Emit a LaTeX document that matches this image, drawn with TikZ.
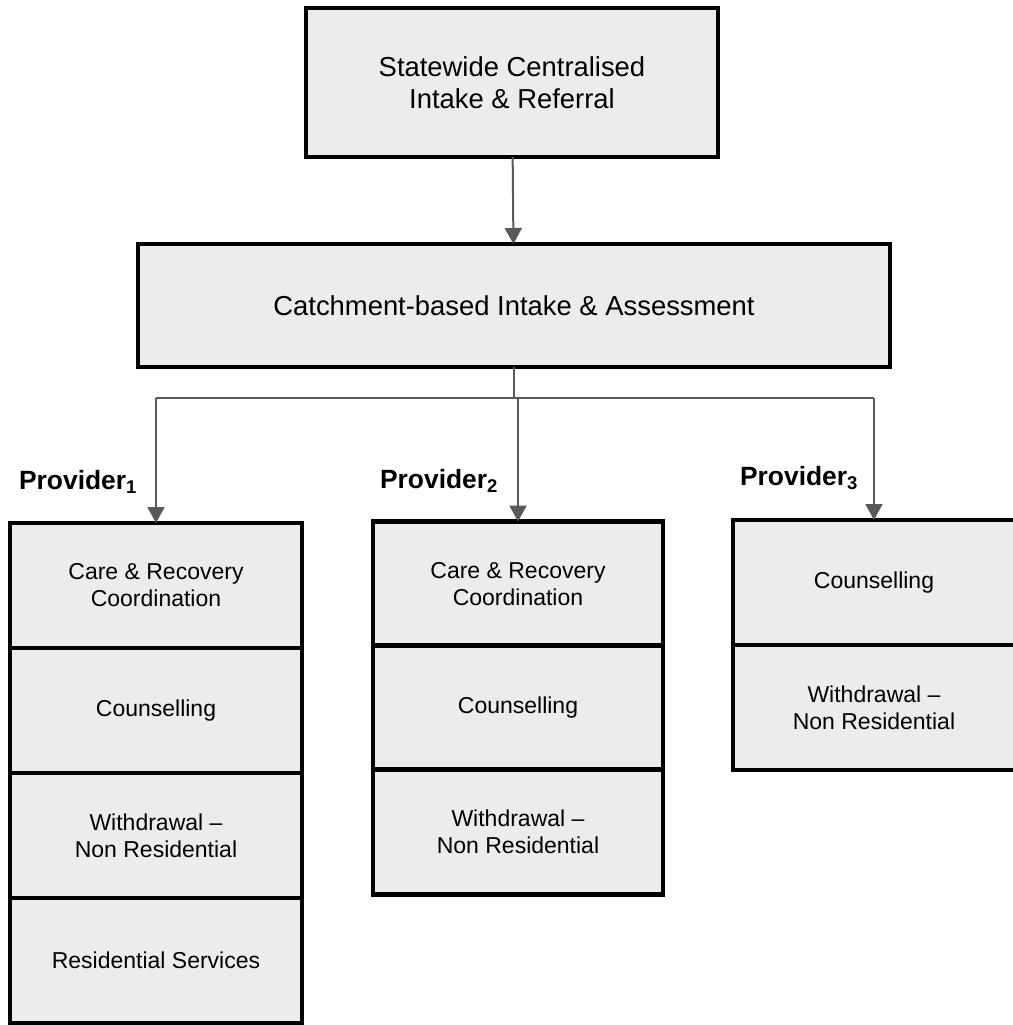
\documentclass[tikz,border=0pt]{standalone}
\usepackage{fontspec}
\setmainfont{Liberation Sans}
\usetikzlibrary{arrows.meta}
\begin{document}
\begin{tikzpicture}[x=0.5pt, y=-0.5pt,
		box/.style={draw=black, line width=2.2pt, fill=gray!15, align=center,
			inner sep=0pt, outer sep=0pt, font=\fontsize{13.7}{16}\selectfont},
		cell/.style={box, minimum height=62.5pt, font=\fontsize{11.5}{13.5}\selectfont},
		conn/.style={draw=black!65, line width=1pt},
		arr/.style={conn, -{Triangle[width=8.5pt, length=8pt]}, color=black!65},
		plabel/.style={anchor=west, font=\bfseries\fontsize{13.2}{15}\selectfont}]
	\useasboundingbox (0,0) rectangle (1013,1025);
	% intake boxes
	\node[box, minimum width=206pt, minimum height=74.5pt] (state) at (512,82.5)
		{Statewide Centralised\\Intake \& Referral};
	\node[box, minimum width=376pt, minimum height=61.5pt] (catch) at (514,305.5)
		{Catchment-based Intake \& Assessment};
	% provider columns
	\foreach \txt [count=\i] in {{Care \& Recovery\\Coordination}, Counselling,
			{Withdrawal --\\Non Residential}, Residential Services}
	{
		\node[cell, minimum width=146pt] (pa\i) at (156, 523 + \i*125 - 62.5) {\txt};
	}
	\foreach \txt [count=\i] in {{Care \& Recovery\\Coordination}, Counselling,
			{Withdrawal --\\Non Residential}}
	{
		\node[cell, minimum width=145pt] (pb\i) at (518, 522 + \i*124 - 62) {\txt};
	}
	\foreach \txt [count=\i] in {Counselling, {Withdrawal --\\Non Residential}}
	{
		\node[cell, minimum width=141pt] (pc\i) at (874, 520 + \i*125 - 62.5) {\txt};
	}
	% provider labels
	\node[plabel] (lab_a) at (12,482) {Provider\textsubscript{1}};
	\node[plabel] (lab_b) at (373,481) {Provider\textsubscript{2}};
	\node[plabel] (lab_c) at (733,478) {Provider\textsubscript{3}};
	% connectors
	\coordinate (split) at (514,398);
	\draw[arr] (state) -- (catch);
	\draw[conn] (catch) -- (split);
	\draw[conn] (split -| pa1) -- (split -| pc1);
	\draw[arr] (split -| pa1) -- (pa1);
	\draw[arr] (split -| pb1) -- (pb1);
	\draw[arr] (split -| pc1) -- (pc1);
\end{tikzpicture}
\end{document}
